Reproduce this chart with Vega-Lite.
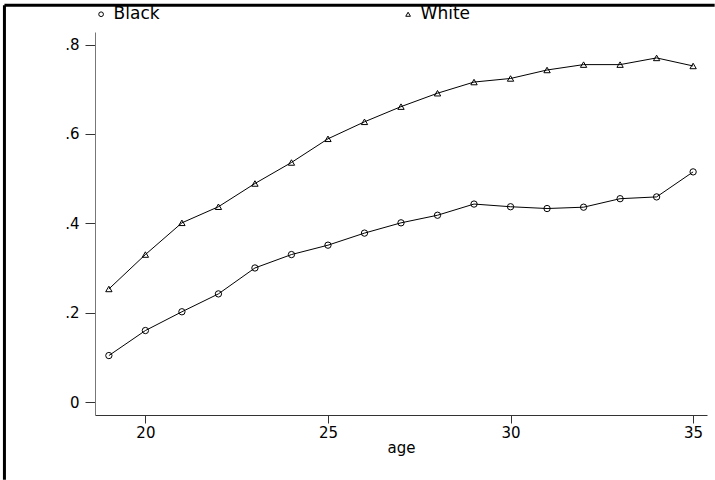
{
  "$schema": "https://vega.github.io/schema/vega-lite/v6.json",
  "autosize": "none",
  "width": 612,
  "height": 383,
  "padding": {"left": 95, "top": 32, "right": 8, "bottom": 65},
  "background": "white",
  "title": {
    "text": "Percentage married among women by age",
    "fontSize": 26,
    "fontWeight": "normal",
    "font": "Liberation Sans",
    "color": "black",
    "anchor": "start",
    "frame": "group",
    "baseline": "alphabetic",
    "dx": -131,
    "dy": 0,
    "offset": 0
  },
  "config": {
    "view": {"stroke": null},
    "font": "DejaVu Sans"
  },
  "datasets": {
    "shares": [
      {"age": 19, "race": "Black", "share": 0.104},
      {"age": 20, "race": "Black", "share": 0.160},
      {"age": 21, "race": "Black", "share": 0.202},
      {"age": 22, "race": "Black", "share": 0.242},
      {"age": 23, "race": "Black", "share": 0.300},
      {"age": 24, "race": "Black", "share": 0.330},
      {"age": 25, "race": "Black", "share": 0.351},
      {"age": 26, "race": "Black", "share": 0.378},
      {"age": 27, "race": "Black", "share": 0.401},
      {"age": 28, "race": "Black", "share": 0.418},
      {"age": 29, "race": "Black", "share": 0.443},
      {"age": 30, "race": "Black", "share": 0.437},
      {"age": 31, "race": "Black", "share": 0.433},
      {"age": 32, "race": "Black", "share": 0.436},
      {"age": 33, "race": "Black", "share": 0.455},
      {"age": 34, "race": "Black", "share": 0.459},
      {"age": 35, "race": "Black", "share": 0.515},
      {"age": 19, "race": "White", "share": 0.253},
      {"age": 20, "race": "White", "share": 0.330},
      {"age": 21, "race": "White", "share": 0.401},
      {"age": 22, "race": "White", "share": 0.437},
      {"age": 23, "race": "White", "share": 0.489},
      {"age": 24, "race": "White", "share": 0.536},
      {"age": 25, "race": "White", "share": 0.589},
      {"age": 26, "race": "White", "share": 0.627},
      {"age": 27, "race": "White", "share": 0.661},
      {"age": 28, "race": "White", "share": 0.691},
      {"age": 29, "race": "White", "share": 0.716},
      {"age": 30, "race": "White", "share": 0.724},
      {"age": 31, "race": "White", "share": 0.743},
      {"age": 32, "race": "White", "share": 0.755},
      {"age": 33, "race": "White", "share": 0.755},
      {"age": 34, "race": "White", "share": 0.770},
      {"age": 35, "race": "White", "share": 0.752}
    ],
    "frame": [
      {"edge": "left", "x1": 16.14, "x2": 16.14, "y1": 0.888, "y2": -0.174},
      {"edge": "top", "x1": 16.14, "x2": 35.59, "y1": 0.888, "y2": 0.888}
    ]
  },
  "layer": [
    {
      "data": {"name": "shares"},
      "mark": {"type": "line", "color": "black", "strokeWidth": 1},
      "encoding": {
        "x": {
          "field": "age",
          "type": "quantitative",
          "scale": {"domain": [18.62, 35.38], "nice": false, "zero": false},
          "axis": {
            "values": [20, 25, 30, 35],
            "title": "age",
            "titleFont": "DejaVu Sans",
            "titleFontSize": 15,
            "titleFontWeight": "normal",
            "titleColor": "black",
            "titlePadding": 0,
            "labelFont": "DejaVu Sans",
            "labelFontSize": 15,
            "labelColor": "black",
            "labelPadding": 2,
            "labelFlush": false,
            "tickSize": 8,
            "tickColor": "#333333",
            "domainColor": "#333333",
            "grid": false
          }
        },
        "y": {
          "field": "share",
          "type": "quantitative",
          "scale": {"domain": [-0.029, 0.828], "nice": false, "zero": false},
          "axis": {
            "values": [0, 0.2, 0.4, 0.6, 0.8],
            "labelExpr": "datum.value == 0 ? '0' : replace(format(datum.value, '.1f'), '0.', '.')",
            "title": null,
            "labelFont": "DejaVu Sans",
            "labelFontSize": 15,
            "labelColor": "black",
            "labelPadding": 6,
            "tickSize": 10,
            "tickColor": "#333333",
            "domainColor": "#777777",
            "grid": false
          }
        },
        "detail": {"field": "race"}
      }
    },
    {
      "data": {"name": "shares"},
      "mark": {"type": "point", "filled": false, "color": "black", "strokeWidth": 1, "size": 40, "opacity": 1},
      "encoding": {
        "x": {"field": "age", "type": "quantitative"},
        "y": {"field": "share", "type": "quantitative"},
        "shape": {
          "field": "race",
          "type": "nominal",
          "scale": {"domain": ["Black", "White"], "range": ["circle", "triangle-up"]},
          "legend": {
            "orient": "none",
            "legendX": -2.4,
            "legendY": -26.5,
            "direction": "horizontal",
            "title": null,
            "symbolSize": 22,
            "symbolStrokeWidth": 1,
            "symbolStrokeColor": "black",
            "symbolFillColor": "transparent",
            "labelFont": "DejaVu Sans",
            "labelFontSize": 17,
            "labelColor": "black",
            "labelOffset": 4,
            "columnPadding": 240,
            "padding": 0
          }
        }
      }
    },
    {
      "data": {"name": "frame"},
      "mark": {"type": "rule", "color": "black", "strokeWidth": 3, "clip": false},
      "encoding": {
        "x": {"field": "x1", "type": "quantitative"},
        "x2": {"field": "x2"},
        "y": {"field": "y1", "type": "quantitative"},
        "y2": {"field": "y2"}
      }
    }
  ]
}
